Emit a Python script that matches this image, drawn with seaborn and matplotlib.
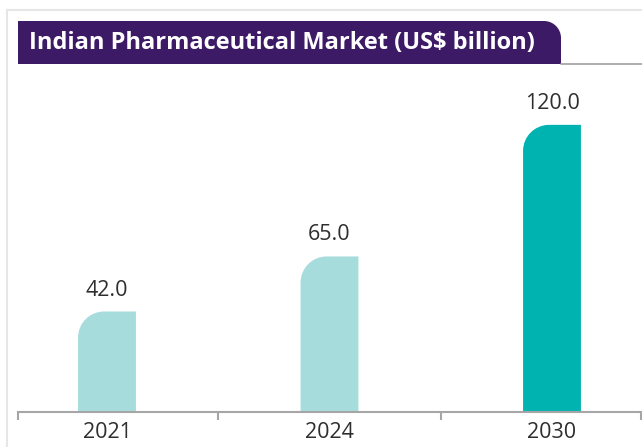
import matplotlib
matplotlib.use("Agg")
import matplotlib.pyplot as plt
from matplotlib.path import Path
from matplotlib.patches import PathPatch
import matplotlib.lines as mlines
import seaborn as sns
import pandas as pd

years = ["2021", "2024", "2030"]
market_size = [42.0, 65.0, 120.0]
bar_colors = ["#a7dcdc", "#a7dcdc", "#00b3b0"]
title_text = "Indian Pharmaceutical Market (US$ billion)"

W, H, DPI = 642, 447, 100
TEXT = "#2e2e2e"
FONT = ["Open Sans", "DejaVu Sans"]

sns.set_theme(style="white")
plt.rcParams["font.family"] = FONT

fig = plt.figure(figsize=(W / DPI, H / DPI), dpi=DPI)

# plotting area in pixel terms
ax_left, ax_right, ax_base, ax_top = 18, 641, 412, 77
ax = fig.add_axes([ax_left / W, (H - ax_base) / H,
                   (ax_right - ax_left) / W, (ax_base - ax_top) / H])

df = pd.DataFrame({"year": years, "value": market_size})
sns.barplot(data=df, x="year", y="value", hue="year",
            palette=dict(zip(years, bar_colors)), width=0.26,
            saturation=1, legend=False, ax=ax)

xmin, xmax, ymax = -0.4, 2.4, 140
ax.set_xlim(xmin, xmax)
ax.set_ylim(0, ymax)

# bars with a rounded top-left corner
px_per_x = (ax_right - ax_left) / (xmax - xmin)
px_per_y = (ax_base - ax_top) / ymax
radius_px = 26
rx, ry = radius_px / px_per_x, radius_px / px_per_y
k = 0.5523
for patch in list(ax.patches):
    x0 = patch.get_x()
    w = patch.get_width()
    h = patch.get_height()
    x1 = x0 + w
    verts = [(x0, 0), (x0, h - ry),
             (x0, h - ry + k * ry), (x0 + rx - k * rx, h), (x0 + rx, h),
             (x1, h), (x1, 0), (x0, 0)]
    codes = [Path.MOVETO, Path.LINETO,
             Path.CURVE4, Path.CURVE4, Path.CURVE4,
             Path.LINETO, Path.LINETO, Path.CLOSEPOLY]
    ax.add_patch(PathPatch(Path(verts, codes), facecolor=patch.get_facecolor(),
                           edgecolor="none", linewidth=0))
    patch.set_visible(False)
    ax.annotate(f"{h:.1f}", xy=(x0 + w / 2, h), xytext=(0, 11.5),
                textcoords="offset points", ha="center", va="baseline",
                fontsize=15.5, color=TEXT)

# axes styling
for side in ["left", "right", "top"]:
    ax.spines[side].set_visible(False)
ax.spines["bottom"].set_color("#a6a6a6")
ax.spines["bottom"].set_linewidth(1.5)
ax.set_yticks([])
ax.set_xlabel("")
ax.set_ylabel("")
ax.set_xticks(range(len(years)))
ax.set_xticklabels(years, fontsize=15.5, color=TEXT)
ax.tick_params(axis="x", which="major", length=0, pad=7)
ax.set_xticks([xmin, 0.5, 1.5, xmax], minor=True)
ax.tick_params(axis="x", which="minor", bottom=True, length=6, width=1.5,
               color="#a6a6a6", direction="out")

# panel frame
fig.add_artist(mlines.Line2D([7 / W, 1], [1 - 10 / H, 1 - 10 / H],
                             color="#e6e6e6", linewidth=1.5,
                             transform=fig.transFigure))
fig.add_artist(mlines.Line2D([7 / W, 7 / W], [0, 1 - 10 / H],
                             color="#e6e6e6", linewidth=1.5,
                             transform=fig.transFigure))

# title tab with a rounded top-right corner
bx0, bx1, by_top, by_bot = 18, 561, 21, 64
tr = 17
fx = lambda px: px / W
fy = lambda py: 1 - py / H
tverts = [(fx(bx0), fy(by_bot)), (fx(bx0), fy(by_top)), (fx(bx1 - tr), fy(by_top)),
          (fx(bx1 - tr + k * tr), fy(by_top)), (fx(bx1), fy(by_top + tr - k * tr)),
          (fx(bx1), fy(by_top + tr)),
          (fx(bx1), fy(by_bot)), (fx(bx0), fy(by_bot))]
tcodes = [Path.MOVETO, Path.LINETO, Path.LINETO,
          Path.CURVE4, Path.CURVE4, Path.CURVE4,
          Path.LINETO, Path.CLOSEPOLY]
fig.add_artist(PathPatch(Path(tverts, tcodes), facecolor="#3d1a66",
                         edgecolor="none", transform=fig.transFigure))
fig.add_artist(mlines.Line2D([fx(bx1), 1], [fy(by_bot), fy(by_bot)],
                             color="#a0a0a0", linewidth=1.2,
                             transform=fig.transFigure))
fig.text(fx(29), fy((by_top + by_bot) / 2 + 1), title_text, color="white",
         fontsize=17, fontweight="bold", ha="left", va="center")

fig.savefig("out.png", dpi=DPI, facecolor="white")
